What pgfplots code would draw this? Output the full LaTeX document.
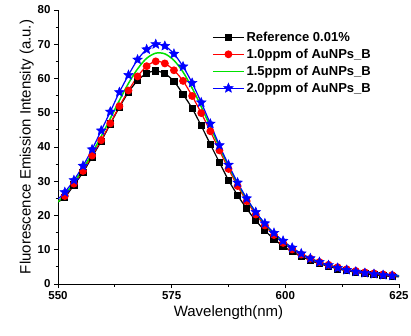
\documentclass[border=0pt]{standalone}
\usepackage{fontspec}
\setmainfont{Liberation Sans}
\usepackage{pgfplots}
\pgfplotsset{compat=1.18}
\pgfdeclareplotmark{fstar}{%
  \pgfpathmoveto{\pgfpointpolar{90}{\pgfplotmarksize}}%
  \pgfpathlineto{\pgfpointpolar{126}{0.45\pgfplotmarksize}}%
  \pgfpathlineto{\pgfpointpolar{162}{\pgfplotmarksize}}%
  \pgfpathlineto{\pgfpointpolar{198}{0.45\pgfplotmarksize}}%
  \pgfpathlineto{\pgfpointpolar{234}{\pgfplotmarksize}}%
  \pgfpathlineto{\pgfpointpolar{270}{0.45\pgfplotmarksize}}%
  \pgfpathlineto{\pgfpointpolar{306}{\pgfplotmarksize}}%
  \pgfpathlineto{\pgfpointpolar{342}{0.45\pgfplotmarksize}}%
  \pgfpathlineto{\pgfpointpolar{18}{\pgfplotmarksize}}%
  \pgfpathlineto{\pgfpointpolar{54}{0.45\pgfplotmarksize}}%
  \pgfpathclose\pgfusepathqfillstroke}
\definecolor{mygreen}{RGB}{0,225,0}
\begin{document}
\begin{tikzpicture}
\begin{axis}[
  scale only axis,
  width=341pt, height=274pt,
  xmin=550, xmax=625, ymin=0, ymax=80,
  xtick={550,575,600,625}, ytick={0,10,...,80},
  minor x tick num=1, minor y tick num=1,
  axis x line*=bottom, axis y line*=left,
  tick align=outside,
  major tick length=4pt, minor tick length=2.5pt,
  every tick/.style={black, line width=0.8pt},
  axis line style={line width=0.8pt},
  /pgf/number format/assume math mode=true,
  ticklabel style={font=\bfseries\fontsize{11.5}{13}\selectfont},
  xlabel={Wavelength(nm)}, ylabel={Fluorescence Emission Intensity (a.u.)},
  label style={font=\fontsize{15}{17}\selectfont},
  xlabel style={yshift=1pt},
  ylabel style={yshift=-3pt},
  legend style={at={(0.452,0.928)}, anchor=north west, draw=none, fill=none,
    inner xsep=0pt, inner ysep=0pt,
    font=\bfseries\fontsize{13}{15}\selectfont, row sep=2pt},
  legend cell align=left,
  legend image code/.code={\draw[mark repeat=2, mark phase=2, line width=1.2pt, #1, mark indices={2}] plot coordinates {(0pt,0pt) (15.5pt,0pt) (31pt,0pt)};},
  every axis plot/.append style={line width=1.2pt},
]
\addplot[black, smooth, mark=square*, mark size=3pt, mark indices={2,3,4,5,6,7,8,9,10,11,12,13,14,15,16,17,18,19,20,21,22,23,24,25,26,27,28,29,30,31,32,33,34,35,36,37,38}] coordinates {
(550,24.0)(551.5,25.3)(553.5,28.9)(555.5,32.6)(557.5,37.1)(559.5,41.7)(561.5,46.7)(563.5,51.6)(565.5,56.0)(567.5,59.4)(569.5,61.5)(571.5,62.2)(573.5,61.4)(575.5,59.2)(577.5,55.4)(579.5,51.3)(581.5,46.2)(583.5,40.8)(585.5,35.5)(587.5,30.3)(589.5,25.9)(591.5,22.0)(593.5,18.5)(595.5,15.6)(597.5,13.1)(599.5,11.1)(601.5,9.4)(603.5,8.1)(605.5,6.9)(607.5,5.9)(609.5,5.2)(611.5,4.4)(613.5,3.9)(615.5,3.4)(617.5,3.0)(619.5,2.7)(621.5,2.4)(623.5,2.2)(625,2.1)};
\addlegendentry{Reference 0.01\%}
\addplot[red, smooth, mark=*, mark size=3.3pt, mark indices={2,3,4,5,6,7,8,9,10,11,12,13,14,15,16,17,18,19,20,21,22,23,24,25,26,27,28,29,30,31,32,33,34,35,36,37,38}] coordinates {
(550,24.2)(551.5,25.7)(553.5,29.3)(555.5,33.0)(557.5,37.5)(559.5,42.0)(561.5,46.9)(563.5,51.9)(565.5,56.5)(567.5,60.6)(569.5,63.6)(571.5,65.0)(573.5,64.4)(575.5,62.4)(577.5,59.3)(579.5,54.9)(581.5,49.9)(583.5,44.6)(585.5,39.0)(587.5,33.6)(589.5,28.6)(591.5,24.2)(593.5,20.3)(595.5,17.1)(597.5,14.3)(599.5,12.0)(601.5,10.1)(603.5,8.6)(605.5,7.4)(607.5,6.4)(609.5,5.6)(611.5,4.9)(613.5,4.3)(615.5,3.8)(617.5,3.4)(619.5,3.1)(621.5,2.8)(623.5,2.6)(625,2.5)};
\addlegendentry{1.0ppm of AuNPs\_B}
\addplot[mygreen, smooth, no marks, line width=1.5pt] coordinates {
(550,24.0)(551.5,26.0)(553.5,29.6)(555.5,33.6)(557.5,38.2)(559.5,43.1)(561.5,48.3)(563.5,53.6)(565.5,58.6)(567.5,62.8)(569.5,65.9)(571.5,67.4)(573.5,67.2)(575.5,65.3)(577.5,61.9)(579.5,57.2)(581.5,51.8)(583.5,45.9)(585.5,40.0)(587.5,34.4)(589.5,29.3)(591.5,24.8)(593.5,20.9)(595.5,17.5)(597.5,14.7)(599.5,12.3)(601.5,10.4)(603.5,8.8)(605.5,7.5)(607.5,6.4)(609.5,5.5)(611.5,4.8)(613.5,4.2)(615.5,3.7)(617.5,3.3)(619.5,3.0)(621.5,2.7)(623.5,2.5)(625,2.4)};
\addlegendentry{1.5ppm of AuNPs\_B}
\addplot[blue, smooth, mark=fstar, mark size=5pt, mark options={fill=blue, line width=0.5pt}, mark indices={2,3,4,5,6,7,8,9,10,11,12,13,14,15,16,17,18,19,20,21,22,23,24,25,26,27,28,29,30,31,32,33,34,35,36,37,38}] coordinates {
(550,24.8)(551.5,26.8)(553.5,30.3)(555.5,34.5)(557.5,39.3)(559.5,44.8)(561.5,50.3)(563.5,56.0)(565.5,61.0)(567.5,65.5)(569.5,68.5)(571.5,70.0)(573.5,69.5)(575.5,67.2)(577.5,63.5)(579.5,58.7)(581.5,53.0)(583.5,46.8)(585.5,40.5)(587.5,34.8)(589.5,29.6)(591.5,25.0)(593.5,21.0)(595.5,17.7)(597.5,14.9)(599.5,12.6)(601.5,10.6)(603.5,8.9)(605.5,7.5)(607.5,6.4)(609.5,5.5)(611.5,4.7)(613.5,4.1)(615.5,3.6)(617.5,3.2)(619.5,2.9)(621.5,2.6)(623.5,2.4)(625,2.3)};
\addlegendentry{2.0ppm of AuNPs\_B}
\end{axis}
\pgfresetboundingbox
\path (current axis.south west) ++(-58pt,-51pt) rectangle ([shift={(12pt,10pt)}]current axis.north east);
\end{tikzpicture}
\end{document}
